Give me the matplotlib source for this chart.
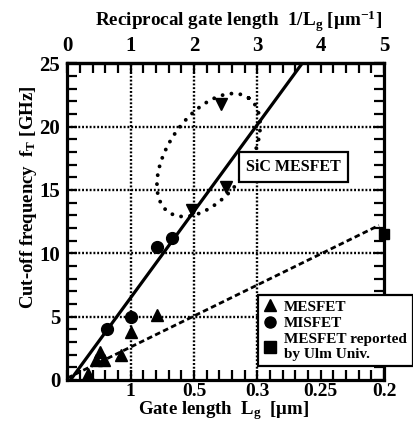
import matplotlib
matplotlib.use("Agg")
import matplotlib.pyplot as plt
from matplotlib.lines import Line2D
from matplotlib.ticker import MultipleLocator
import numpy as np

plt.rcParams["font.family"] = ["Liberation Serif", "DejaVu Serif"]
plt.rcParams["font.weight"] = "bold"
plt.rcParams["mathtext.fontset"] = "custom"
plt.rcParams["mathtext.rm"] = "Liberation Serif:bold"
plt.rcParams["mathtext.it"] = "Liberation Serif:bold"
plt.rcParams["mathtext.bf"] = "Liberation Serif:bold"

# x = reciprocal gate length 1/Lg [um^-1], y = cut-off frequency fT [GHz]
mesfet_x = [0.33, 0.45, 0.52, 0.58, 0.85, 1.0, 1.42]
mesfet_y = [0.5, 1.6, 2.2, 1.6, 2.0, 3.8, 5.1]
misfet_x = [0.63, 1.0, 1.42, 1.66]
misfet_y = [4.0, 5.0, 10.5, 11.2]
sic_x = [1.97, 2.51, 2.43]
sic_y = [13.4, 15.2, 21.8]
ulm_x = [5.0]
ulm_y = [11.5]

# fitted trend lines (end points)
misfet_fit_x = [0.05, 3.71]
misfet_fit_y = [0.0, 25.0]
mesfet_fit_x = [0.0, 4.92]
mesfet_fit_y = [0.15, 12.2]

top_ticks = [0, 1, 2, 3, 4, 5]
bottom_ticks = [1, 2, 3, 4, 5]
bottom_labels = ["1", "0.5", "0.3", "0.25", "0.2"]
y_ticks = [0, 5, 10, 15, 20, 25]
grid_x = [1, 2, 3]
grid_y = [5, 10, 15, 20]

fig = plt.figure(figsize=(4.14, 4.23), dpi=100)
ax = fig.add_axes([0.1626, 0.1017, 0.765, 0.749])

ax.set_xlim(0, 5)
ax.set_ylim(0, 25)

for gx in grid_x:
    ax.axvline(gx, color="black", lw=1.7, ls=(0, (0.8, 0.8)), zorder=1)
for gy in grid_y:
    ax.axhline(gy, color="black", lw=1.7, ls=(0, (0.8, 0.8)), zorder=1)

ax.plot(misfet_fit_x, misfet_fit_y, color="black", lw=2.3, zorder=3)
ax.plot(mesfet_fit_x, mesfet_fit_y, color="black", lw=2.0,
        ls=(0, (2, 1.2)), zorder=3)

ax.plot(mesfet_x, mesfet_y, "^", color="black", ms=8, zorder=4)
ax.plot(misfet_x, misfet_y, "o", color="black", ms=8.5, zorder=4)
ax.plot(sic_x, sic_y, "v", color="black", ms=8, zorder=4)
ax.plot(ulm_x, ulm_y, "s", color="black", ms=7, zorder=4, clip_on=False)

# dotted ellipse around the SiC MESFET points (axes fraction)
t = np.linspace(0, 2 * np.pi, 300)
cx, cy, a, b, ang = 0.446, 0.710, 0.22, 0.126, np.deg2rad(55)
ex = cx + a * np.cos(t) * np.cos(ang) - b * np.sin(t) * np.sin(ang)
ey = cy + a * np.cos(t) * np.sin(ang) + b * np.sin(t) * np.cos(ang)
ax.plot(ex, ey, color="black", lw=2.8, ls=(0, (0.01, 2.3)),
        dash_capstyle="round", transform=ax.transAxes, zorder=2)

ax.text(3.57, 16.8, "SiC MESFET", ha="center", va="center", fontsize=11.5,
        fontweight="bold", zorder=6,
        bbox=dict(boxstyle="square,pad=0.45", fc="white", ec="black", lw=1.6))

# ticks
ax.set_xticks(bottom_ticks)
ax.set_xticklabels(bottom_labels)
ax.xaxis.set_minor_locator(MultipleLocator(0.2))
ax.set_yticks(y_ticks)
ax.yaxis.set_minor_locator(MultipleLocator(1))
ax.tick_params(which="both", direction="in", top=False, right=True,
               width=1.6, length=7, labelsize=15)
ax.tick_params(axis="x", pad=2, labelsize=14)
ax.tick_params(axis="y", pad=5)

top = ax.secondary_xaxis("top")
top.set_xticks(top_ticks)
top.xaxis.set_minor_locator(MultipleLocator(0.2))
top.tick_params(which="both", direction="in", width=1.6, length=7,
                labelsize=15, pad=5)

for sp in ax.spines.values():
    sp.set_linewidth(2.3)
top.spines["top"].set_linewidth(2.3)

fig.text(0.577, 0.950, r"Reciprocal gate length  1/L$_{\mathrm{g}}$ [μm$^{\mathrm{-1}}$]",
         ha="center", va="center", fontsize=13.8, fontweight="bold")
fig.text(0.541, 0.029, r"Gate length  L$_{\mathrm{g}}$  [μm]",
         ha="center", va="center", fontsize=13.5, fontweight="bold")
fig.text(0.068, 0.534, r"Cut-off frequency  f$_{\mathrm{T}}$ [GHz]",
         ha="center", va="center", rotation=90, fontsize=13.5, fontweight="bold")

handles = [
    Line2D([], [], marker="^", ls="none", color="black", ms=8),
    Line2D([], [], marker="o", ls="none", color="black", ms=8),
    Line2D([], [], marker="s", ls="none", color="black", ms=8),
]
leg = fig.legend(handles, ["MESFET", "MISFET", "MESFET reported\nby Ulm Univ."],
                 loc="lower left", bbox_to_anchor=(0.623, 0.135, 0.375, 0.18),
                 mode="expand", frameon=True, fancybox=False, edgecolor="black",
                 framealpha=1, prop={"size": 11, "weight": "bold"},
                 handlelength=1, handletextpad=0.4, labelspacing=0.2,
                 borderpad=0.3, borderaxespad=0)
leg.get_frame().set_linewidth(1.6)

fig.savefig("out.png", dpi=100)
